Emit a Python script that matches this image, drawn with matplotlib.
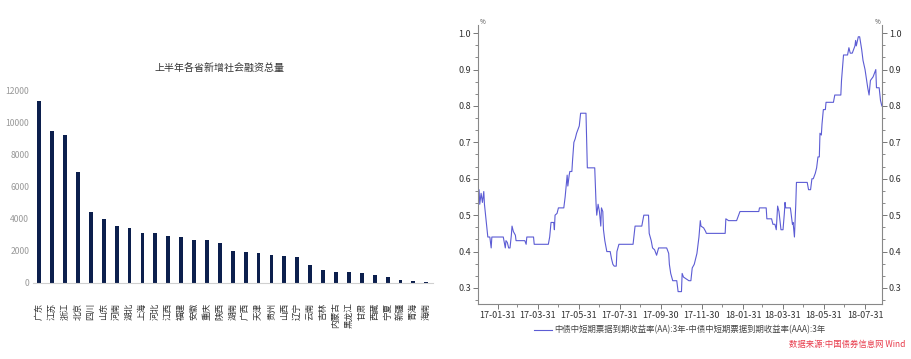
import matplotlib
matplotlib.use('Agg')
import matplotlib.pyplot as plt
import matplotlib.dates as mdates
from matplotlib.ticker import MultipleLocator
import pandas as pd

plt.rcParams['font.family'] = ['Noto Sans CJK SC', 'DejaVu Sans']

# left chart: new social financing by province, first half of year
provinces = ['广东', '江苏', '浙江', '北京', '四川', '山东', '河南', '湖北', '上海', '河北',
             '江西', '福建', '安徽', '重庆', '陕西', '湖南', '广西', '天津', '贵州', '山西',
             '辽宁', '云南', '吉林', '内蒙古', '黑龙江', '甘肃', '西藏', '宁夏', '新疆', '青海', '海南']
financing = [11340, 9480, 9250, 6900, 4420, 4020, 3575, 3400, 3130, 3090,
             2900, 2840, 2710, 2650, 2500, 2020, 1915, 1850, 1770, 1660,
             1640, 1090, 780, 700, 650, 610, 485, 380, 170, 125, 85]

# right chart: AA minus AAA 3y short-term note yield spread (%)
spread_dates = ['2017-01-01', '2017-01-03', '2017-01-04', '2017-01-06', '2017-01-08', '2017-01-10',
                '2017-01-11', '2017-01-13', '2017-01-15', '2017-01-16', '2017-01-19', '2017-01-21',
                '2017-01-22', '2017-02-08', '2017-02-11', '2017-02-12', '2017-02-14', '2017-02-16',
                '2017-02-18', '2017-02-20', '2017-02-21', '2017-02-23', '2017-02-26', '2017-02-27',
                '2017-03-12', '2017-03-14', '2017-03-15', '2017-03-25', '2017-03-26', '2017-04-16',
                '2017-04-18', '2017-04-20', '2017-04-24', '2017-04-25', '2017-04-26', '2017-04-29',
                '2017-05-01', '2017-05-09', '2017-05-11', '2017-05-13', '2017-05-14', '2017-05-15',
                '2017-05-17', '2017-05-18', '2017-05-21', '2017-05-22', '2017-05-24', '2017-05-26',
                '2017-05-28', '2017-05-30', '2017-06-01', '2017-06-03', '2017-06-10', '2017-06-11',
                '2017-06-13', '2017-06-24', '2017-06-26', '2017-06-27', '2017-06-29', '2017-07-01',
                '2017-07-03', '2017-07-04', '2017-07-06', '2017-07-07', '2017-07-09', '2017-07-12',
                '2017-07-17', '2017-07-19', '2017-07-21', '2017-07-23', '2017-07-26', '2017-07-27',
                '2017-07-30', '2017-08-20', '2017-08-23', '2017-09-02', '2017-09-05', '2017-09-12',
                '2017-09-13', '2017-09-16', '2017-09-18', '2017-09-21', '2017-09-24', '2017-09-27',
                '2017-10-09', '2017-10-12', '2017-10-13', '2017-10-15', '2017-10-18', '2017-10-24',
                '2017-10-26', '2017-10-31', '2017-11-01', '2017-11-03', '2017-11-11', '2017-11-14',
                '2017-11-16', '2017-11-19', '2017-11-23', '2017-11-26', '2017-11-28', '2017-11-29',
                '2017-12-03', '2017-12-06', '2017-12-07', '2018-01-04', '2018-01-05', '2018-01-09',
                '2018-01-21', '2018-01-24', '2018-01-26', '2018-02-23', '2018-02-24', '2018-03-06',
                '2018-03-07', '2018-03-14', '2018-03-16', '2018-03-19', '2018-03-21', '2018-03-23',
                '2018-03-25', '2018-03-27', '2018-03-28', '2018-03-31', '2018-04-02', '2018-04-03',
                '2018-04-04', '2018-04-11', '2018-04-14', '2018-04-15', '2018-04-17', '2018-04-19',
                '2018-04-20', '2018-05-06', '2018-05-08', '2018-05-11', '2018-05-13', '2018-05-15',
                '2018-05-18', '2018-05-20', '2018-05-22', '2018-05-24', '2018-05-25', '2018-05-27',
                '2018-05-28', '2018-05-30', '2018-06-02', '2018-06-03', '2018-06-14', '2018-06-16',
                '2018-06-25', '2018-06-26', '2018-06-29', '2018-07-05', '2018-07-07', '2018-07-09',
                '2018-07-12', '2018-07-16', '2018-07-17', '2018-07-18', '2018-07-21', '2018-07-23',
                '2018-07-26', '2018-07-28', '2018-07-31', '2018-08-02', '2018-08-04', '2018-08-06',
                '2018-08-08', '2018-08-12', '2018-08-16', '2018-08-17', '2018-08-21', '2018-08-23',
                '2018-08-25']
spread = [0.555, 0.57, 0.53, 0.56, 0.535, 0.565,
          0.53, 0.495, 0.46, 0.44, 0.44, 0.41,
          0.44, 0.44, 0.41, 0.43, 0.425, 0.41,
          0.41, 0.445, 0.47, 0.455, 0.445, 0.43,
          0.43, 0.42, 0.44, 0.44, 0.42, 0.42,
          0.44, 0.48, 0.48, 0.46, 0.50, 0.505,
          0.52, 0.52, 0.55, 0.59, 0.61, 0.58,
          0.61, 0.62, 0.62, 0.65, 0.70, 0.71,
          0.725, 0.735, 0.745, 0.78, 0.78, 0.78,
          0.63, 0.63, 0.53, 0.50, 0.53, 0.51,
          0.47, 0.52, 0.51, 0.46, 0.43, 0.40,
          0.40, 0.38, 0.365, 0.36, 0.36, 0.40,
          0.42, 0.42, 0.47, 0.47, 0.50, 0.50,
          0.45, 0.43, 0.41, 0.405, 0.39, 0.41,
          0.41, 0.395, 0.365, 0.34, 0.32, 0.32,
          0.29, 0.29, 0.34, 0.33, 0.32, 0.32,
          0.355, 0.365, 0.395, 0.44, 0.485, 0.47,
          0.465, 0.455, 0.45, 0.45, 0.49, 0.485,
          0.485, 0.50, 0.51, 0.51, 0.52, 0.52,
          0.49, 0.49, 0.475, 0.475, 0.46, 0.525,
          0.51, 0.475, 0.46, 0.46, 0.505, 0.535,
          0.52, 0.52, 0.475, 0.48, 0.44, 0.53,
          0.59, 0.59, 0.57, 0.57, 0.60, 0.60,
          0.615, 0.63, 0.66, 0.66, 0.725, 0.72,
          0.75, 0.79, 0.79, 0.81, 0.81, 0.83,
          0.83, 0.87, 0.94, 0.94, 0.96, 0.945,
          0.945, 0.965, 0.98, 0.965, 0.99, 0.99,
          0.955, 0.925, 0.90, 0.875, 0.85, 0.83,
          0.87, 0.88, 0.90, 0.85, 0.85, 0.815,
          0.80]
tick_dates = ['2017-01-31', '2017-03-31', '2017-05-31', '2017-07-31', '2017-09-30',
              '2017-11-30', '2018-01-31', '2018-03-31', '2018-05-31', '2018-07-31']
legend_label = '中债中短期票据到期收益率(AA):3年-中债中短期票据到期收益率(AAA):3年'
source_note = '数据来源:中国债券信息网 Wind'

fig = plt.figure(figsize=(9.11, 3.59), dpi=100)

# ---- left: bar chart
ax1 = fig.add_axes([0.036, 0.212, 0.439, 0.535])
x = range(len(provinces))
ax1.bar(x, financing, width=0.3, color='#0c1f4d')
ax1.set_xlim(-0.5, len(provinces) - 0.5)
ax1.set_ylim(0, 12000)
ax1.set_yticks(range(0, 12001, 2000))
ax1.tick_params(axis='y', length=0, labelsize=6.2, labelcolor='#999999', pad=2.5)
ax1.set_xticks(list(x))
ax1.set_xticklabels(provinces, rotation=90, fontsize=6.2, color='#333333', va='top')
ax1.tick_params(axis='x', length=0, pad=14)
for s in ['top', 'right', 'left']:
    ax1.spines[s].set_visible(False)
ax1.spines['bottom'].set_color('#d0d0d0')
fig.text(0.241, 0.81, '上半年各省新增社会融资总量', ha='center', va='center',
         fontsize=7.2, color='#333333')

# ---- right: yield spread line
ax2 = fig.add_axes([0.5244, 0.1532, 0.4436, 0.7768])
dts = pd.to_datetime(spread_dates)
ax2.plot(dts, spread, color='#5c5cd4', lw=0.8, label=legend_label)
ax2.set_xlim(pd.Timestamp('2017-01-01'), pd.Timestamp('2018-08-25'))
ax2.set_ylim(0.256, 1.022)
ax2.set_xticks(pd.to_datetime(tick_dates))
ax2.xaxis.set_major_formatter(mdates.DateFormatter('%y-%m-%d'))
ax2.xaxis.set_minor_locator(mdates.MonthLocator(bymonthday=-1))
ax2.yaxis.set_major_locator(MultipleLocator(0.1))
ax2.yaxis.set_minor_locator(MultipleLocator(0.1 / 3))
ax2.tick_params(which='both', direction='out', color='#777777', labelsize=6.5,
                labelcolor='#333333', right=True, labelright=True)
ax2.tick_params(which='major', length=3.5, width=0.7, pad=1.5)
ax2.tick_params(which='minor', length=2, width=0.6)
ax2.spines['top'].set_visible(False)
for s in ['left', 'right', 'bottom']:
    ax2.spines[s].set_color('#888888')
    ax2.spines[s].set_linewidth(0.8)
ax2.text(0.004, 1.005, '%', transform=ax2.transAxes, fontsize=4.5, color='#444444', ha='left')
ax2.text(0.996, 1.005, '%', transform=ax2.transAxes, fontsize=4.5, color='#444444', ha='right')
ax2.legend(loc='center', bbox_to_anchor=(0.5, -0.093), frameon=False, fontsize=6,
           handlelength=2.2, handletextpad=0.3, labelcolor='#444444',
           borderpad=0, borderaxespad=0)
fig.text(0.93, 0.04, source_note, ha='center', va='center', fontsize=6,
         color='#e83a4a', style='italic')

fig.savefig('out.png', dpi=100)
